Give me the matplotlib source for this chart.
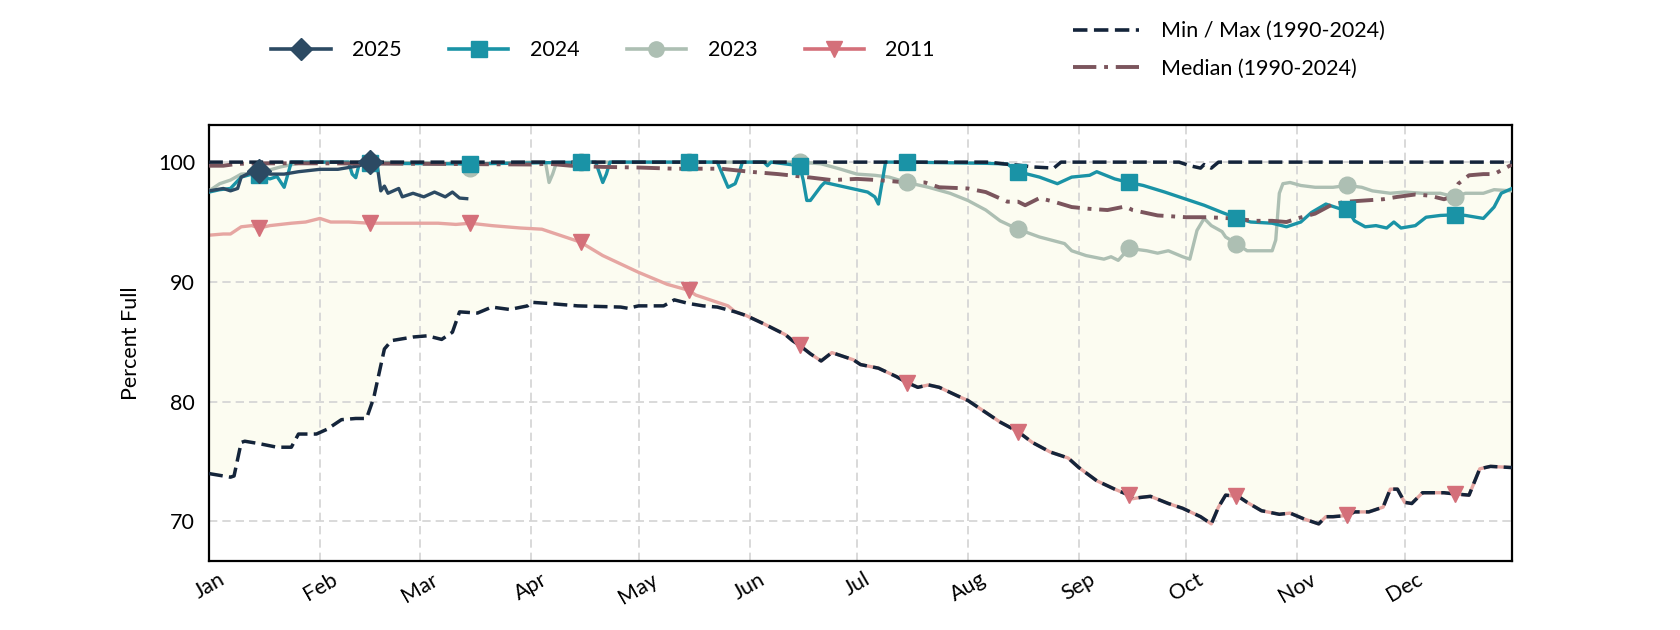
import numpy as np
import matplotlib
matplotlib.use("Agg")
import matplotlib.pyplot as plt
from matplotlib.lines import Line2D

plt.rcParams['font.family'] = ['Lato', 'DejaVu Sans']

# day of year (0 = Jan 1), percent full
month_days = [0, 31, 59, 90, 120, 151, 181, 212, 243, 273, 304, 334]
month_names = ['Jan', 'Feb', 'Mar', 'Apr', 'May', 'Jun', 'Jul', 'Aug', 'Sep', 'Oct', 'Nov', 'Dec']
marker_days = [14, 45, 73, 104, 134, 165, 195, 226, 257, 287, 318, 348]

# 2011 after mid May is also the 1990-2024 minimum
tail_days = [147, 150, 155, 161, 163, 165, 168, 171, 174, 176, 180, 182, 187, 192, 195, 198, 201,
             204, 209, 212, 217, 221, 226, 230, 235, 240, 243, 248, 253, 257, 258, 260, 263, 268,
             272, 277, 280, 282, 284, 287, 288, 290, 294, 299, 302, 306, 310, 312, 314, 318, 320,
             324, 328, 330, 332, 334, 336, 339, 345, 348, 352, 355, 358, 364]
tail_vals = [87.5, 87.2, 86.5, 85.6, 85.1, 84.7, 84.0, 83.4, 84.1, 83.9, 83.5, 83.1, 82.8, 82.1,
             81.6, 81.2, 81.4, 81.2, 80.5, 80.1, 79.1, 78.3, 77.5, 76.6, 75.8, 75.3, 74.5, 73.4,
             72.7, 72.2, 71.9, 72.0, 72.1, 71.5, 71.1, 70.4, 69.8, 71.2, 72.2, 72.1, 72.0, 71.6,
             70.9, 70.6, 70.7, 70.2, 69.8, 70.4, 70.4, 70.5, 70.8, 70.8, 71.2, 72.7, 72.7, 71.6,
             71.5, 72.4, 72.4, 72.3, 72.2, 74.4, 74.6, 74.5]

min_days = [0, 2, 6, 7, 9, 10, 14, 19, 23, 25, 30, 33, 37, 41, 44, 46, 49, 51, 57, 61, 65, 68,
            70, 75, 79, 84, 89, 90, 95, 103, 115, 117, 120, 127, 130, 134, 138, 142] + tail_days
min_vals = [74.0, 73.9, 73.7, 73.8, 76.6, 76.7, 76.5, 76.2, 76.2, 77.3, 77.3, 77.7, 78.5, 78.6,
            78.6, 80.3, 84.4, 85.1, 85.4, 85.5, 85.2, 85.8, 87.5, 87.4, 87.9, 87.7, 88.0, 88.3,
            88.2, 88.0, 87.9, 87.8, 88.0, 88.0, 88.5, 88.2, 88.0, 87.9] + tail_vals

max_days = [0, 218, 222, 226, 230, 236, 238, 271, 274, 277, 278, 280, 282, 364]
max_vals = [100, 100, 99.85, 99.75, 99.6, 99.5, 100, 100, 99.7, 99.5, 99.8, 99.5, 100, 100]

med_days = [0, 4, 8, 17, 31, 59, 90, 95, 101, 110, 120, 130, 143, 151, 159, 167, 174, 181, 187,
            195, 200, 204, 212, 217, 223, 226, 228, 232, 236, 241, 246, 251, 256, 258, 265, 273,
            279, 286, 292, 297, 301, 304, 309, 314, 318, 323, 328, 332, 337, 341, 345, 347, 349,
            352, 356, 359, 364]
med_vals = [99.7, 99.7, 99.86, 99.9, 99.9, 99.86, 99.8, 99.86, 99.7, 99.6, 99.55, 99.45, 99.45,
            99.2, 99.0, 98.75, 98.5, 98.6, 98.5, 98.3, 98.3, 97.9, 97.8, 97.5, 96.7, 96.7, 96.4,
            97.0, 96.7, 96.25, 96.1, 96.0, 96.3, 96.0, 95.55, 95.4, 95.4, 95.3, 95.1, 95.1, 95.0,
            95.3, 95.7, 96.5, 96.7, 96.8, 96.9, 97.1, 97.3, 97.2, 96.9, 97.1, 98.2, 98.9, 99.0,
            99.0, 99.8]

y2025_days = [0, 4, 6, 8, 9, 12, 14, 17, 21, 25, 31, 36, 40, 42, 45, 47, 48, 49, 50, 53, 54, 57,
              60, 63, 66, 68, 70, 72]
y2025_vals = [97.6, 97.8, 97.6, 97.8, 98.75, 99.2, 99.3, 99.0, 99.0, 99.2, 99.4, 99.4, 99.6, 99.7,
              100.0, 99.7, 97.6, 98.0, 97.4, 97.8, 97.1, 97.4, 97.1, 97.5, 97.1, 97.5, 97.0, 96.95]

y2024_days = [0, 3, 6, 9, 12, 14, 17, 19, 21, 23, 39, 40, 41, 42, 45, 73, 104, 108, 110, 111, 112,
              134, 142, 145, 147, 148, 149, 155, 156, 157, 165, 166, 167, 168, 171, 172, 178, 184,
              186, 187, 189, 195, 217, 223, 226, 232, 237, 241, 246, 248, 253, 257, 261, 267, 273,
              278, 283, 287, 291, 297, 301, 305, 308, 312, 316, 318, 320, 323, 326, 329, 331, 333,
              337, 340, 344, 348, 351, 356, 359, 361, 364]
y2024_vals = [97.5, 97.7, 97.8, 98.75, 99.0, 98.9, 98.6, 98.8, 97.9, 100, 100, 99.0, 98.7, 99.9,
              99.9, 99.85, 100, 100, 98.3, 99.0, 100, 100, 100, 97.9, 98.2, 99.0, 100, 100, 99.7,
              100, 99.7, 98.5, 96.8, 96.8, 98.0, 98.3, 97.9, 97.5, 97.1, 96.5, 100, 100, 99.9,
              99.85, 99.2, 98.75, 98.2, 98.75, 98.9, 99.2, 98.6, 98.3, 98.05, 97.5, 96.9, 96.4,
              95.8, 95.35, 95.0, 94.9, 94.6, 95.0, 95.8, 96.5, 96.1, 96.1, 95.1, 94.6, 94.7, 94.5,
              95.0, 94.5, 94.7, 95.4, 95.55, 95.6, 95.55, 95.3, 96.25, 97.4, 97.8]

y2023_days = [0, 3, 6, 9, 14, 20, 25, 31, 45, 70, 73, 76, 90, 94, 95, 96, 97, 104, 134, 165, 171,
              176, 181, 186, 190, 195, 201, 207, 212, 217, 221, 226, 232, 239, 241, 245, 250, 252,
              254, 257, 262, 265, 268, 272, 274, 276, 278, 280, 283, 284, 287, 290, 292, 297, 298,
              299, 300, 302, 305, 309, 314, 318, 322, 325, 330, 334, 339, 344, 348, 351, 356, 359,
              364]
y2023_vals = [97.6, 98.2, 98.5, 99.0, 99.1, 99.6, 99.9, 100, 100, 99.9, 99.5, 99.9, 100, 100, 98.3,
              99.0, 99.9, 100, 100, 100, 99.86, 99.45, 99.0, 98.9, 98.75, 98.3, 97.9, 97.4, 96.8,
              96.0, 95.1, 94.4, 93.75, 93.2, 92.6, 92.2, 91.9, 92.1, 91.8, 92.8, 92.6, 92.4, 92.6,
              92.1, 91.9, 94.3, 95.3, 94.7, 94.2, 93.75, 93.2, 92.6, 92.6, 92.6, 93.5, 97.4, 98.2,
              98.3, 98.05, 97.9, 97.9, 98.05, 97.9, 97.6, 97.4, 97.5, 97.4, 97.4, 97.1, 97.4, 97.4,
              97.7, 97.6]

y2011_days = [0, 4, 6, 9, 12, 14, 17, 23, 27, 31, 34, 39, 45, 51, 58, 64, 69, 73, 79, 87, 93, 97,
              101, 104, 105, 110, 115, 120, 124, 128, 134, 136, 140, 145] + tail_days
y2011_vals = [93.9, 94.0, 94.0, 94.6, 94.7, 94.5, 94.7, 94.9, 95.0, 95.3, 95.0, 95.0, 94.9, 94.9,
              94.9, 94.9, 94.8, 94.9, 94.7, 94.5, 94.4, 94.0, 93.6, 93.3, 93.1, 92.2, 91.5, 90.8,
              90.3, 89.8, 89.3, 88.9, 88.5, 88.0] + tail_vals

# colours
c2025 = '#2c4a63'
c2024 = '#1a93a6'
c2023 = '#adbfb3'
c2011 = '#d4707a'
c2011_line = '#e6a6a2'
cminmax = '#14243a'
cmed = '#7b555d'
ls_minmax = (0, (4, 1.8))
ls_med = (0, (6, 2, 1, 2))
fs = 15.5

fig = plt.figure(figsize=(16.8, 6.3), dpi=100)
ax = fig.add_axes([0.1244, 0.1095, 0.7756, 0.6921])

# range band between min and max
ax.fill(np.concatenate([max_days, min_days[::-1]]),
        np.concatenate([max_vals, min_vals[::-1]]),
        color='#fcfcf1', lw=0, zorder=0)

series = [
    (y2011_days, y2011_vals, c2011_line, c2011, 'v', 12, '2011'),
    (y2023_days, y2023_vals, c2023, c2023, 'o', 12, '2023'),
    (y2024_days, y2024_vals, c2024, c2024, 's', 11, '2024'),
    (y2025_days, y2025_vals, c2025, c2025, 'D', 12, '2025'),
]
for i, (d, v, lc, mc, mk, ms, lab) in enumerate(series):
    d = np.array(d)
    v = np.array(v)
    ax.plot(d, v, color=lc, lw=2.4, zorder=2 + i)
    sel = np.isin(d, marker_days)
    ax.plot(d[sel], v[sel], linestyle='none', marker=mk, ms=ms, color=mc, zorder=10 + i)

ax.plot(med_days, med_vals, color=cmed, lw=2.8, linestyle=ls_med, zorder=7)
ax.plot(min_days, min_vals, color=cminmax, lw=2.5, linestyle=ls_minmax, zorder=8)
ax.plot(max_days, max_vals, color=cminmax, lw=2.5, linestyle=ls_minmax, zorder=8)

ax.set_xlim(0, 364)
ax.set_ylim(66.7, 103.1)
ax.set_xticks(month_days)
ax.set_xticklabels(month_names, rotation=30, fontsize=fs)
ax.set_yticks([70, 80, 90, 100])
ax.tick_params(axis='y', labelsize=fs, length=0, pad=10)
ax.tick_params(axis='x', length=0, pad=6)
ax.set_ylabel('Percent Full', fontsize=fs, labelpad=12)
ax.grid(True, color='#d3d3d3', linestyle=(0, (5, 3)), lw=1.2)
ax.set_axisbelow(True)
for s in ax.spines.values():
    s.set_linewidth(1.6)
    s.set_color('black')

h_years = [Line2D([], [], color=c2025, lw=2.6, marker='D', ms=11),
           Line2D([], [], color=c2024, lw=2.6, marker='s', ms=11),
           Line2D([], [], color=c2023, lw=2.6, marker='o', ms=11),
           Line2D([], [], color=c2011, lw=2.6, marker='v', ms=11)]
fig.legend(h_years, ['2025', '2024', '2023', '2011'], ncol=4, frameon=False,
           loc='center left', bbox_to_anchor=(0.15, 0.92), fontsize=fs,
           handlelength=2.75, columnspacing=2.2, handletextpad=1.0)

h_stats = [Line2D([], [], color=cminmax, lw=2.6, linestyle=ls_minmax),
           Line2D([], [], color=cmed, lw=2.8, linestyle=ls_med)]
fig.legend(h_stats, ['Min / Max (1990-2024)', 'Median (1990-2024)'], frameon=False,
           loc='center left', bbox_to_anchor=(0.627, 0.921), fontsize=fs,
           handlelength=3.1, handletextpad=1.0, labelspacing=0.8)

fig.savefig('out.png', dpi=100)
